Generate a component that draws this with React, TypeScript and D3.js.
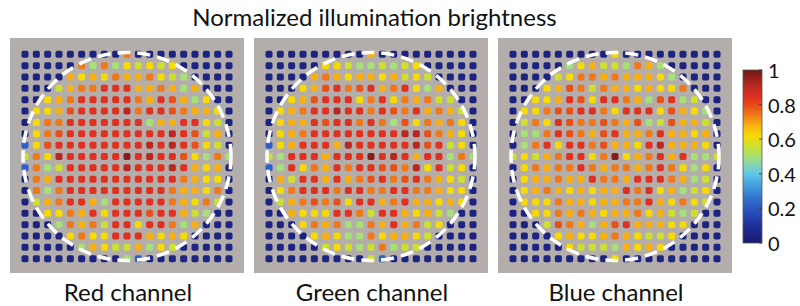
import React from "react";
import * as d3 from "d3";

const TITLE = "Normalized illumination brightness";
const CHANNELS = ["Red channel", "Green channel", "Blue channel"];

// normalized brightness (percent) per cell, 19 x 19 grid, row 0 = top
const RED: number[][] = [
  [4,4,4,4,4,4,4,4,4,74,4,4,4,4,4,4,4,4,4],
  [4,4,4,4,4,74,50,74,50,62,56,62,56,62,4,4,4,4,4],
  [4,4,4,4,68,62,68,62,74,68,68,74,62,56,50,4,4,4,4],
  [4,4,4,56,68,74,74,84,84,84,68,68,74,68,50,68,4,4,4],
  [4,4,62,68,74,84,84,84,84,84,74,68,84,79,68,50,62,4,4],
  [4,62,62,68,79,84,84,84,84,91,74,84,84,79,74,68,68,62,4],
  [4,62,74,74,84,84,84,84,84,84,84,50,68,68,84,84,62,56,4],
  [4,62,74,79,84,84,84,84,84,84,84,84,84,91,84,79,56,68,4],
  [22,62,79,84,84,84,84,84,84,84,84,91,84,91,84,79,62,56,4],
  [56,74,62,91,84,84,84,84,84,97,84,91,84,84,79,62,50,74,50],
  [22,74,50,56,84,84,84,84,84,91,84,84,84,91,84,68,62,68,4],
  [4,74,68,84,84,84,84,84,84,84,84,84,84,84,74,68,62,62,4],
  [4,74,50,74,84,84,84,84,84,84,84,84,84,74,68,68,62,74,4],
  [4,56,68,74,84,84,68,50,84,84,84,84,84,74,68,62,74,56,4],
  [4,4,62,62,74,68,84,62,84,84,84,79,84,84,68,56,50,4,4],
  [4,4,4,50,74,68,74,56,84,84,62,84,84,74,50,68,4,4,4],
  [4,4,4,4,62,74,62,62,84,84,84,68,62,68,62,4,4,4,4],
  [4,4,4,4,4,50,68,62,56,56,68,50,62,56,4,4,4,4,4],
  [4,4,4,4,4,4,4,4,4,50,22,4,4,4,4,4,4,4,4],
];

const GREEN: number[][] = [
  [4,4,4,4,4,4,4,4,4,68,4,4,4,4,4,4,4,4,4],
  [4,4,4,4,4,62,62,56,50,50,56,50,56,62,4,4,4,4,4],
  [4,4,4,4,68,74,68,62,68,68,62,68,56,62,56,4,4,4,4],
  [4,4,4,62,68,79,84,74,79,84,68,74,84,62,50,68,4,4,4],
  [4,4,62,68,79,84,84,84,62,74,84,62,74,68,74,56,56,4,4],
  [4,62,68,74,84,84,91,84,84,74,84,79,74,84,68,74,68,56,4],
  [4,62,68,68,84,79,84,84,74,84,74,50,79,62,74,68,74,62,4],
  [4,62,68,74,84,84,84,84,84,84,84,84,91,91,79,74,68,62,4],
  [22,62,68,84,84,84,68,91,84,84,84,84,84,91,79,84,56,62,4],
  [56,50,84,84,84,68,84,84,84,97,84,91,84,68,84,84,50,74,50],
  [22,50,84,62,74,68,84,74,84,84,79,79,74,91,62,84,56,62,4],
  [4,68,56,84,84,68,84,68,74,79,84,74,79,84,74,68,62,56,4],
  [4,62,74,84,84,84,74,84,84,74,74,84,84,74,74,68,62,62,4],
  [4,56,68,74,79,74,79,62,84,84,68,74,84,68,68,62,68,62,4],
  [4,4,68,62,62,62,84,84,74,56,84,84,68,62,68,56,50,4,4],
  [4,4,4,62,74,68,74,50,50,74,68,84,68,74,56,62,4,4,4],
  [4,4,4,4,62,68,62,50,50,74,62,68,68,62,56,4,4,4,4],
  [4,4,4,4,4,56,62,56,50,56,74,50,56,56,4,4,4,4,4],
  [4,4,4,4,4,4,4,4,4,56,22,4,4,4,4,4,4,4,4],
];

const BLUE: number[][] = [
  [4,4,4,4,4,4,4,4,4,62,4,4,4,4,4,4,4,4,4],
  [4,4,4,4,4,50,62,68,56,56,50,74,68,50,4,4,4,4,4],
  [4,4,4,4,56,62,74,74,68,74,68,68,68,62,50,4,4,4,4],
  [4,4,4,62,68,79,74,56,74,68,68,62,68,62,62,74,4,4,4],
  [4,4,62,62,68,84,79,62,84,84,74,68,50,79,84,50,56,4,4],
  [4,62,62,74,79,79,84,84,74,62,84,84,84,62,79,68,62,50,4],
  [4,56,74,62,84,79,74,74,79,74,68,79,50,56,79,68,68,56,4],
  [4,50,50,74,84,79,74,68,79,84,68,68,74,84,68,68,62,68,4],
  [4,50,74,84,62,84,84,74,79,68,68,62,84,91,68,68,68,62,4],
  [56,62,56,68,74,84,84,62,74,97,62,68,74,84,68,84,50,50,56],
  [4,62,74,68,74,74,84,74,68,74,74,68,74,84,74,62,50,62,4],
  [4,62,68,68,74,68,68,84,74,74,68,84,84,84,74,68,50,56,4],
  [4,62,68,74,68,62,68,62,68,68,84,74,84,62,68,50,56,62,4],
  [4,62,62,62,74,68,68,62,68,68,74,74,84,68,62,74,62,56,4],
  [4,4,62,62,74,68,74,68,62,68,68,74,62,68,56,50,56,4,4],
  [4,4,4,56,79,74,68,50,68,79,84,68,68,68,62,62,4,4,4],
  [4,4,4,4,62,68,62,62,68,74,68,62,56,56,62,4,4,4,4],
  [4,4,4,4,4,62,56,56,56,50,68,62,68,62,4,4,4,4,4],
  [4,4,4,4,4,4,4,4,4,62,4,4,4,4,4,4,4,4,4],
];

const PANELS = [RED, GREEN, BLUE];
const TICKS = [0, 0.2, 0.4, 0.6, 0.8, 1];
const TICK_LABELS = ["0", "0.2", "0.4", "0.6", "0.8", "1"];
const STOP_VALUES = [0, 0.1, 0.2, 0.3, 0.4, 0.5, 0.56, 0.62, 0.68, 0.74, 0.79, 0.84, 0.91, 1];
const STOP_COLORS = [
  "#1b1b6e", "#1f2f9a", "#2b55c0", "#3a8ad8", "#5ec8e8", "#a8e078", "#cde030",
  "#f6da00", "#f8b010", "#f07818", "#e85018", "#e03020", "#b82820", "#701818",
];

const W = 800;
const H = 306;
const FONT = "Lato, 'Open Sans', sans-serif";

export default function App() {
  const color = d3
    .scaleLinear<string>()
    .domain(STOP_VALUES)
    .range(STOP_COLORS)
    .interpolate(d3.interpolateRgb)
    .clamp(true);

  const panelLeft = d3.scaleLinear().domain([0, 2]).range([10, 498]);
  const panelW = 234;
  const panelH = 235;
  const panelTop = 38;
  const n = 19;
  const cx = d3.scalePoint<number>().domain(d3.range(n)).range([15, 219]);
  const cy = d3.scalePoint<number>().domain(d3.range(n)).range([16.3, 220.7]);
  const cell = 7;

  const cbX = 743;
  const cbW = 19;
  const cbY = d3.scaleLinear().domain([0, 1]).range([243, 70]);

  return (
    <svg
      width={W}
      height={H}
      style={{ position: "absolute", left: 0, top: 0, background: "#fff" }}
      fontFamily={FONT}
    >
      <defs>
        <linearGradient id="cbgrad" x1="0" y1="1" x2="0" y2="0">
          {STOP_VALUES.map((v, i) => (
            <stop key={i} offset={v} stopColor={STOP_COLORS[i]} />
          ))}
        </linearGradient>
      </defs>
      <text x={374.5} y={26} textAnchor="middle" fontSize={24} fill="#111">
        {TITLE}
      </text>
      {PANELS.map((grid, p) => {
        const x0 = panelLeft(p);
        return (
          <g key={p} transform={`translate(${x0},${panelTop})`}>
            <rect width={panelW} height={panelH} fill="#b3adab" />
            {grid.map((row, r) =>
              row.map((v, c) => (
                <rect
                  key={`${r}-${c}`}
                  x={(cx(c) as number) - cell / 2}
                  y={(cy(r) as number) - cell / 2}
                  width={cell}
                  height={cell}
                  rx={1.8}
                  fill={color(v / 100)}
                />
              ))
            )}
            <circle
              cx={cx(9) as number}
              cy={cy(9) as number}
              r={104}
              fill="none"
              stroke="#fff"
              strokeWidth={3.5}
              strokeDasharray="13 7"
            />
            <text
              x={panelW / 2 + 1}
              y={300.5 - panelTop}
              textAnchor="middle"
              fontSize={24}
              fill="#111"
            >
              {CHANNELS[p]}
            </text>
          </g>
        );
      })}
      <rect
        x={cbX}
        y={cbY(1)}
        width={cbW}
        height={cbY(0) - cbY(1)}
        fill="url(#cbgrad)"
        stroke="#555"
        strokeWidth={0.8}
      />
      {TICKS.map((t, i) => (
        <g key={i}>
          <line x1={cbX + cbW - 3} x2={cbX + cbW} y1={cbY(t)} y2={cbY(t)} stroke="#333" strokeWidth={0.8} />
          <text x={768} y={cbY(t)} dominantBaseline="central" fontSize={20} fill="#111">
            {TICK_LABELS[i]}
          </text>
        </g>
      ))}
    </svg>
  );
}
